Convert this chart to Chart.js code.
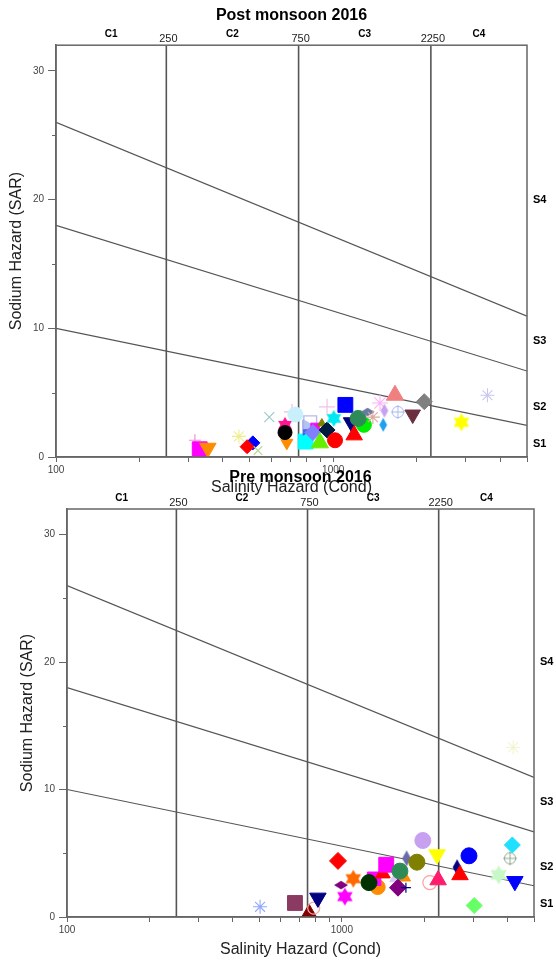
<!DOCTYPE html>
<html><head><meta charset="utf-8">
<script src="https://cdn.jsdelivr.net/npm/chart.js@4.4.1/dist/chart.umd.min.js"></script>
<style>
html,body{margin:0;padding:0;background:#fff;}
#wrap{position:relative;width:556px;height:965px;overflow:hidden;background:#fff;}
.c{position:absolute;left:0;width:556px;height:500px;}
</style></head><body>
<div id="wrap">
<div class="c" style="top:0"><canvas id="post"></canvas></div>
<div class="c" style="top:465px"><canvas id="pre"></canvas></div>
</div>
<script>
// ---------- axis / label values ----------
const chartTitles = ['Post monsoon 2016', 'Pre monsoon 2016'];
const xTitle = 'Salinity Hazard (Cond)';
const yTitle = 'Sodium Hazard (SAR)';
const xRange = [100, 5000];
const yRange = [0, 32];
const xTicks = [100,200,300,400,500,600,700,800,900,1000,2000,3000,4000,5000];
const xTickLabels = [100, 1000];
const yTicks = [0, 10, 20, 30];
const yMinorTicks = [5, 15, 25];
const classBounds = [250, 750, 2250];
const classNames = ['C1', 'C2', 'C3', 'C4'];
const sodiumNames = ['S1', 'S2', 'S3', 'S4'];
const sodiumLabelSAR = [1, 3.9, 9, 20];
// class boundary lines: SAR at EC = 100 and EC = 5000
const lineEC = [100, 5000];
const lineS1S2 = [10.0, 2.45];
const lineS2S3 = [18.0, 6.68];
const lineS3S4 = [26.0, 10.94];

// ---------- Post monsoon 2016 ----------
const postEC  = [317, 330, 353, 457, 513, 489, 535, 588, 680, 670, 670, 710, 730, 795, 808, 826, 860, 845, 895, 910,
                 950, 1015, 950, 1005, 1106, 1160, 1290, 1230, 1330, 1190, 1390, 1475, 1530, 1515, 1670, 1710, 1935, 2130, 3600, 2900];
const postSAR = [1.3, 0.6, 0.7, 1.6, 1.1, 0.8, 0.5, 3.1, 1.1, 2.5, 1.9, 3.5, 3.3, 1.2, 2.3, 2.7, 2.3, 1.9, 1.1, 2.6,
                 2.1, 1.3, 3.9, 3.0, 4.05, 2.7, 2.5, 3.0, 3.5, 1.7, 3.1, 4.2, 3.6, 2.5, 4.8, 3.5, 3.3, 4.3, 4.8, 2.7];
// ---------- Pre monsoon 2016 ----------
const preEC  = [504, 675, 760, 790, 818, 968, 993, 1025, 1100, 1350, 1310, 1255, 1410, 1450, 1560, 1690, 1626, 1600, 1710, 1720,
                1875, 1970, 2220, 2090, 2240, 2625, 2690, 2900, 3030, 3720, 4090, 4170, 4260, 4200];
const preSAR = [0.8, 1.1, 0.3, 0.7, 1.5, 4.4, 2.5, 1.6, 3.0, 2.35, 3.0, 2.7, 3.4, 4.1, 3.0, 3.1, 3.6, 2.3, 2.3, 4.6,
                4.3, 6.0, 4.9, 2.7, 2.9, 3.9, 3.3, 4.8, 0.9, 3.3, 4.6, 5.65, 2.8, 13.3];

// ---------- marker styles (kept apart from the values) ----------
const postShape = ['plus','square','tridown','ast','diamond','diamond','x','x','tridown','hex','circle','plus','circle','square','triright','osquare','square','diamond','tri','tri',
                   'diamond','circle','plus','hex','square','tridown','circle','circle','fdiam','tri','ast','ast','ndiam','ndiam','tri','cplus','tridown','diamond','ast','hex'];
const postColor = ['#f090c8','#ff00ff','#ff8c00','#eeee88','#0000ff','#ff0000','#b0d890','#98ccc8','#ff8c00','#ff1493','#000000','#f4b8e4','#c8f0fa','#00ffff','#4169e1','#b8b8f0','#ff00ff','#8080ff','#66ee00','#808000',
                   '#001a40','#ff0000','#f4c0e8','#00e8f0','#0000ff','#000080','#00ee00','#2e8b57','#6a7aa0','#ff0000','#d8a8a0','#ffb0f8','#c8a0f0','#1ea0f0','#f08080','#a8b8f0','#6b3040','#808080','#c8c8f0','#ffff00'];
const postSize  = [6,10.5,9.5,7,7,7,6,7,7,8,7,8,7.5,10.5,9,9,6,8,10,5,
                   8,7.5,8,8.5,10.5,9,7.5,8,7,9.5,7,8,7,7,10,7,9,8,7,9];
const preShape = ['ast','square','tri','ocircle','tridown','diamond','fdiam','hex','hex','circle','square','circle','tri','square','tri','tri','circle','diamond','plus','ndiam',
                  'circle','circle','tridown','ocircle','tri','ndiam','tri','circle','diamond','hex','cplus','diamond','tridown','ast'];
const preColor = ['#90a8ff','#8b3a62','#800000','#f4a8a8','#000080','#ff0000','#800080','#ff00ff','#ff6a00','#ff8c00','#ff00ff','#003300','#ff0000','#ff00ff','#d8c8f4','#ff8c00','#2e8b57','#800080','#000080','#6a6aa8',
                  '#808000','#c8a0f0','#ffff00','#ffa0a0','#ff1c6c','#000080','#ff0000','#0000ff','#66ff66','#c8f8c8','#90aa90','#20e0ff','#0000ff','#f4f4d0'];
const preSize  = [7,10.5,9,6,9.5,8.5,7,9,9,7.5,9.5,8,8.5,10.5,6,7,8,8.5,5,8,
                  8,8,9.5,7,9.5,8,9.5,8,8,9.5,7,8,9.5,7];

Chart.defaults.font.family = "'Liberation Sans', Arial, Helvetica, sans-serif";
Chart.defaults.color = '#333';

function shapeCanvas(kind, color, r) {
  const s = Math.ceil(2 * r + 4);
  const c = document.createElement('canvas');
  c.width = s; c.height = s;
  const g = c.getContext('2d');
  const m = s / 2;
  g.fillStyle = color; g.strokeStyle = color;
  if (kind === 'hex') {
    [-90, 90].forEach(a0 => {
      g.beginPath();
      for (let k = 0; k < 3; k++) {
        const a = (a0 + k * 120) * Math.PI / 180;
        const px = m + r * Math.cos(a), py = m + r * Math.sin(a);
        k ? g.lineTo(px, py) : g.moveTo(px, py);
      }
      g.closePath(); g.fill();
    });
  } else if (kind === 'ndiam' || kind === 'fdiam') {
    const hw = kind === 'ndiam' ? r * 0.55 : r;
    const hh = kind === 'ndiam' ? r : r * 0.6;
    g.beginPath();
    g.moveTo(m, m - hh); g.lineTo(m + hw, m); g.lineTo(m, m + hh); g.lineTo(m - hw, m);
    g.closePath(); g.fill();
  } else if (kind === 'cplus') {
    g.lineWidth = 1;
    g.beginPath(); g.arc(m, m, r * 0.8, 0, Math.PI * 2); g.stroke();
    g.beginPath(); g.moveTo(m - r, m); g.lineTo(m + r, m); g.moveTo(m, m - r); g.lineTo(m, m + r); g.stroke();
  }
  return c;
}

function markerStyle(kind, color, r) {
  switch (kind) {
    case 'circle': return {style:'circle', rot:0, bg:color, bw:1};
    case 'ocircle': return {style:'circle', rot:0, bg:'rgba(0,0,0,0)', bw:1.2};
    case 'square': return {style:'rect', rot:0, bg:color, bw:1};
    case 'osquare': return {style:'rect', rot:0, bg:'rgba(255,255,255,0.6)', bw:1.4};
    case 'diamond': return {style:'rectRot', rot:0, bg:color, bw:1};
    case 'tri': return {style:'triangle', rot:0, bg:color, bw:1};
    case 'tridown': return {style:'triangle', rot:180, bg:color, bw:1};
    case 'triright': return {style:'triangle', rot:90, bg:color, bw:1};
    case 'plus': return {style:'cross', rot:0, bg:color, bw:1.2};
    case 'x': return {style:'crossRot', rot:0, bg:color, bw:1.2};
    case 'ast': return {style:'star', rot:0, bg:color, bw:1.1};
    default: return {style:shapeCanvas(kind, color, r), rot:0, bg:color, bw:1};
  }
}

function framePlugin() {
  return {
    id: 'frame',
    afterDraw(chart) {
      const {ctx, chartArea: a, scales: {x, y}} = chart;
      ctx.save();
      ctx.strokeStyle = '#666'; ctx.lineWidth = 1.5;
      ctx.strokeRect(a.left, a.top, a.right - a.left, a.bottom - a.top);
      ctx.lineWidth = 1;
      yMinorTicks.forEach(v => {
        const py = Math.round(y.getPixelForValue(v)) + 0.5;
        ctx.beginPath(); ctx.moveTo(a.left - 4, py); ctx.lineTo(a.left, py); ctx.stroke();
      });
      // salinity class names and boundaries
      ctx.fillStyle = '#000';
      ctx.textAlign = 'center'; ctx.textBaseline = 'middle';
      ctx.font = "bold 10px 'Liberation Sans', Arial, sans-serif";
      const edges = [xRange[0], ...classBounds, xRange[1]];
      classNames.forEach((n, i) => {
        const px = x.getPixelForValue(Math.sqrt(edges[i] * edges[i + 1]));
        ctx.fillText(n, px, a.top - 11);
      });
      ctx.fillStyle = '#222';
      ctx.font = "11px 'Liberation Sans', Arial, sans-serif";
      classBounds.forEach(b => ctx.fillText(String(b), x.getPixelForValue(b) + 2, a.top - 6));
      // sodium class names
      ctx.fillStyle = '#000';
      ctx.textAlign = 'left';
      ctx.font = "bold 11px 'Liberation Sans', Arial, sans-serif";
      sodiumNames.forEach((n, i) => ctx.fillText(n, a.right + 6, y.getPixelForValue(sodiumLabelSAR[i])));
      ctx.restore();
    }
  };
}

function makeChart(id, title, ec, sar, shapes, colors, sizes, lay) {
  const st = shapes.map((s, i) => markerStyle(s, colors[i], sizes[i]));
  const datasets = [{
    data: ec.map((v, i) => ({x: v, y: sar[i]})),
    order: 0,
    showLine: false,
    pointStyle: st.map(s => s.style),
    pointRotation: st.map(s => s.rot),
    pointRadius: sizes,
    pointHoverRadius: sizes,
    pointBackgroundColor: st.map(s => s.bg),
    pointBorderColor: colors,
    pointBorderWidth: st.map(s => s.bw)
  }];
  [lineS1S2, lineS2S3, lineS3S4].forEach(l => datasets.push({
    data: lineEC.map((v, i) => ({x: v, y: l[i]})), showLine: true, order: 1,
    borderColor: '#555', borderWidth: 1.2, pointRadius: 0
  }));
  classBounds.forEach(b => datasets.push({
    data: [{x: b, y: yRange[0]}, {x: b, y: yRange[1]}], showLine: true, order: 1,
    borderColor: '#555', borderWidth: 1.6, pointRadius: 0
  }));
  new Chart(document.getElementById(id), {
    type: 'scatter',
    data: {datasets},
    options: {
      responsive: true, maintainAspectRatio: false, animation: false, devicePixelRatio: 1, events: [],
      layout: {padding: {left: 0, right: lay.right, top: 0, bottom: 0}},
      plugins: {
        legend: {display: false}, tooltip: {enabled: false},
        title: {display: true, text: title, fullSize: false, color: '#000',
                font: {size: 16, weight: 'bold'}, padding: {top: lay.titleTop, bottom: lay.titleBottom}}
      },
      scales: {
        x: {
          type: 'logarithmic', min: xRange[0], max: xRange[1],
          afterBuildTicks: ax => { ax.ticks = xTicks.map(v => ({value: v})); },
          afterFit: ax => { ax.height = lay.xHeight; },
          ticks: {autoSkip: false, maxRotation: 0, padding: 2, color: '#444', font: {size: 10},
                  callback: v => xTickLabels.includes(v) ? String(v) : ''},
          grid: {drawOnChartArea: false, drawTicks: true, tickLength: 5, color: '#666'},
          border: {display: true, color: '#666', width: 1.5},
          title: {display: true, text: xTitle, color: '#222', font: {size: 16}, padding: {top: 0, bottom: lay.xTitlePad}}
        },
        y: {
          type: 'linear', min: yRange[0], max: yRange[1],
          afterBuildTicks: ax => { ax.ticks = yTicks.map(v => ({value: v})); },
          afterFit: ax => { ax.width = lay.yWidth; },
          ticks: {padding: 4, color: '#444', font: {size: 10}},
          grid: {drawOnChartArea: false, drawTicks: true, tickLength: 8, color: '#666'},
          border: {display: true, color: '#666', width: 1.5},
          title: {display: true, text: yTitle, color: '#222', font: {size: 16}, padding: {top: lay.yTitlePad, bottom: 0}}
        }
      }
    },
    plugins: [framePlugin()]
  });
}

makeChart('post', chartTitles[0], postEC, postSAR, postShape, postColor, postSize,
  {right: 29, titleTop: 6, titleBottom: 20, xHeight: 43, xTitlePad: 2.4, yWidth: 56, yTitlePad: 7.4});
makeChart('pre', chartTitles[1], preEC, preSAR, preShape, preColor, preSize,
  {right: 22, titleTop: 3, titleBottom: 21.8, xHeight: 48, xTitlePad: 5.4, yWidth: 67, yTitlePad: 18.4});
</script>
</body></html>
